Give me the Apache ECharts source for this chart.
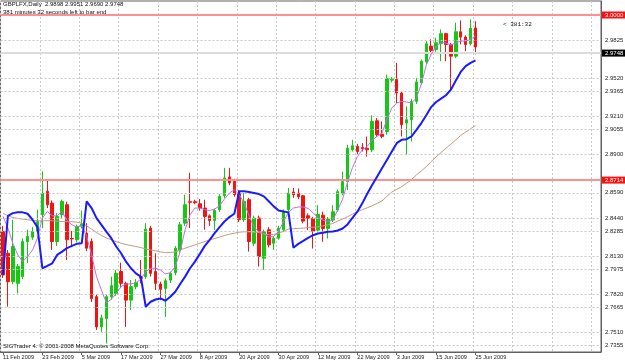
<!DOCTYPE html>
<html><head><meta charset="utf-8">
<script src="https://cdn.jsdelivr.net/npm/echarts/dist/echarts.min.js"></script>
<style>html,body{margin:0;padding:0;background:#fff}#c{width:625px;height:363px}</style>
</head><body><div id="c"></div>
<script>
const dates = [
'11 Feb 2009','12 Feb 2009','13 Feb 2009','16 Feb 2009','17 Feb 2009','18 Feb 2009','19 Feb 2009','20 Feb 2009',
'23 Feb 2009','24 Feb 2009','25 Feb 2009','26 Feb 2009','27 Feb 2009','2 Mar 2009','3 Mar 2009','4 Mar 2009',
'5 Mar 2009','6 Mar 2009','9 Mar 2009','10 Mar 2009','11 Mar 2009','12 Mar 2009','13 Mar 2009','16 Mar 2009',
'17 Mar 2009','18 Mar 2009','19 Mar 2009','20 Mar 2009','23 Mar 2009','24 Mar 2009','25 Mar 2009','26 Mar 2009',
'27 Mar 2009','30 Mar 2009','31 Mar 2009','1 Apr 2009','2 Apr 2009','3 Apr 2009','6 Apr 2009','7 Apr 2009',
'8 Apr 2009','9 Apr 2009','10 Apr 2009','13 Apr 2009','14 Apr 2009','15 Apr 2009','16 Apr 2009','17 Apr 2009',
'20 Apr 2009','21 Apr 2009','22 Apr 2009','23 Apr 2009','24 Apr 2009','27 Apr 2009','28 Apr 2009','29 Apr 2009',
'30 Apr 2009','1 May 2009','4 May 2009','5 May 2009','6 May 2009','7 May 2009','8 May 2009','11 May 2009',
'12 May 2009','13 May 2009','14 May 2009','15 May 2009','18 May 2009','19 May 2009','20 May 2009','21 May 2009',
'22 May 2009','25 May 2009','26 May 2009','27 May 2009','28 May 2009','29 May 2009','1 Jun 2009','2 Jun 2009',
'3 Jun 2009','4 Jun 2009','5 Jun 2009','8 Jun 2009','9 Jun 2009','10 Jun 2009','11 Jun 2009','12 Jun 2009',
'15 Jun 2009','16 Jun 2009','17 Jun 2009','18 Jun 2009','19 Jun 2009','22 Jun 2009','23 Jun 2009','24 Jun 2009',
'25 Jun 2009'];

const opens = [2.8295,2.8124,2.7900,2.7887,2.7940,2.8216,2.8251,2.8295,2.8427,2.8612,2.8519,2.8216,2.8427,2.8506,2.8240,2.8230,2.8340,2.8282,2.8216,2.7782,2.7544,2.7610,2.7782,2.7808,2.7980,2.7887,2.7755,2.7861,2.7940,2.7940,2.8322,2.7980,2.7882,2.7847,2.7913,2.7971,2.8151,2.8361,2.8530,2.8530,2.8514,2.8480,2.8419,2.8382,2.8467,2.8577,2.8725,2.8691,2.8598,2.8388,2.8546,2.8203,2.8401,2.8085,2.8309,2.8203,2.8243,2.8309,2.8467,2.8606,2.8596,2.8577,2.8419,2.8398,2.8306,2.8424,2.8319,2.8385,2.8464,2.8596,2.8688,2.8938,2.8965,2.8957,2.8951,2.8938,2.9167,2.9062,2.9083,2.9487,2.9492,2.9386,2.9149,2.9175,2.9320,2.9465,2.9631,2.9755,2.9729,2.9774,2.9853,2.9768,2.9676,2.9868,2.9826,2.9773,2.9898];
const closes = [2.7953,2.7900,2.8177,2.8019,2.8216,2.8256,2.8295,2.8374,2.8598,2.8506,2.8216,2.8414,2.8533,2.8230,2.8237,2.8335,2.8355,2.8164,2.7768,2.7544,2.7615,2.7782,2.7869,2.7966,2.7887,2.7755,2.7861,2.7893,2.7927,2.8314,2.7966,2.7887,2.7840,2.7908,2.7966,2.8164,2.8348,2.8506,2.8525,2.8522,2.8480,2.8414,2.8382,2.8461,2.8572,2.8717,2.8677,2.8585,2.8388,2.8533,2.8216,2.8401,2.8098,2.8295,2.8190,2.8243,2.8322,2.8453,2.8598,2.8585,2.8569,2.8377,2.8398,2.8298,2.8430,2.8319,2.8393,2.8451,2.8609,2.8688,2.8951,2.8970,2.8925,2.8946,2.8938,2.9162,2.9057,2.9044,2.9499,2.9495,2.9386,2.9136,2.9175,2.9320,2.9473,2.9636,2.9773,2.9721,2.9781,2.9853,2.9768,2.9676,2.9868,2.9826,2.9768,2.9895,2.9748];
const lows = [2.7930,2.7703,2.7880,2.7808,2.7920,2.8045,2.8230,2.8280,2.8322,2.8480,2.8150,2.8180,2.8400,2.8071,2.8180,2.8210,2.8320,2.8140,2.7740,2.7520,2.7505,2.7413,2.7760,2.7790,2.7860,2.7544,2.7676,2.7840,2.7887,2.7920,2.7940,2.7834,2.7755,2.7623,2.7890,2.7950,2.8130,2.8340,2.8322,2.8510,2.8460,2.8309,2.8340,2.8309,2.8450,2.8560,2.8660,2.8570,2.8370,2.8370,2.8137,2.8180,2.8019,2.7993,2.8170,2.8150,2.8230,2.8290,2.8450,2.8560,2.8550,2.8360,2.8306,2.8161,2.8290,2.8214,2.8240,2.8370,2.8450,2.8580,2.8622,2.8925,2.8899,2.8925,2.8885,2.8920,2.9040,2.9030,2.9057,2.9470,2.9307,2.9044,2.8899,2.9004,2.9300,2.9450,2.9610,2.9689,2.9710,2.9636,2.9636,2.9412,2.9660,2.9768,2.9715,2.9760,2.9690];
const highs = [2.8340,2.8150,2.8388,2.8040,2.8240,2.8309,2.8330,2.8467,2.8770,2.8704,2.8540,2.8440,2.8546,2.8530,2.8300,2.8350,2.8460,2.8361,2.8240,2.7800,2.7640,2.7800,2.7940,2.7993,2.8050,2.7900,2.7913,2.7920,2.8071,2.8361,2.8340,2.8124,2.7900,2.7925,2.7980,2.8180,2.8370,2.8585,2.8757,2.8545,2.8550,2.8546,2.8430,2.8475,2.8590,2.8796,2.8796,2.8710,2.8620,2.8598,2.8560,2.8420,2.8420,2.8310,2.8330,2.8260,2.8340,2.8470,2.8638,2.8638,2.8635,2.8583,2.8437,2.8410,2.8503,2.8451,2.8410,2.8503,2.8625,2.8767,2.8978,2.9017,2.8985,2.8991,2.9043,2.9210,2.9188,2.9162,2.9531,2.9510,2.9623,2.9400,2.9281,2.9340,2.9505,2.9650,2.9795,2.9808,2.9821,2.9887,2.9860,2.9780,2.9939,2.9958,2.9840,2.9966,2.9951];

const maFast = [2.8414,2.8322,2.8203,2.8111,2.8058,2.8098,2.8150,2.8243,2.8401,2.8453,2.8419,2.8419,2.8453,2.8382,2.8348,2.8330,2.8340,2.8256,2.8111,2.7940,2.7834,2.7734,2.7760,2.7808,2.7861,2.7882,2.7882,2.7892,2.7919,2.7979,2.8006,2.8006,2.7992,2.7961,2.7971,2.8019,2.8137,2.8309,2.8427,2.8480,2.8480,2.8467,2.8461,2.8472,2.8498,2.8551,2.8598,2.8625,2.8585,2.8519,2.8419,2.8330,2.8295,2.8277,2.8251,2.8256,2.8295,2.8374,2.8446,2.8480,2.8488,2.8488,2.8477,2.8443,2.8403,2.8385,2.8372,2.8385,2.8464,2.8551,2.8683,2.8798,2.8885,2.8938,2.8965,2.9015,2.9044,2.9070,2.9175,2.9268,2.9307,2.9320,2.9315,2.9307,2.9347,2.9457,2.9605,2.9689,2.9752,2.9781,2.9781,2.9763,2.9781,2.9795,2.9795,2.9808,2.9834];
const maSlow = [2.8440,2.8419,2.8406,2.8398,2.8393,2.8388,2.8382,2.8380,2.8380,2.8380,2.8380,2.8377,2.8374,2.8374,2.8372,2.8369,2.8361,2.8340,2.8314,2.8287,2.8264,2.8245,2.8230,2.8216,2.8203,2.8193,2.8185,2.8177,2.8169,2.8158,2.8150,2.8143,2.8135,2.8129,2.8129,2.8135,2.8150,2.8164,2.8177,2.8190,2.8203,2.8216,2.8230,2.8240,2.8251,2.8264,2.8274,2.8282,2.8290,2.8293,2.8293,2.8290,2.8287,2.8277,2.8269,2.8272,2.8282,2.8298,2.8314,2.8318,2.8319,2.8322,2.8327,2.8329,2.8332,2.8340,2.8348,2.8358,2.8377,2.8393,2.8411,2.8432,2.8451,2.8467,2.8482,2.8498,2.8517,2.8535,2.8572,2.8606,2.8627,2.8648,2.8675,2.8704,2.8741,2.8772,2.8806,2.8846,2.8883,2.8917,2.8951,2.8983,2.9017,2.9052,2.9078,2.9104,2.9130];
const blueLine = [2.7953,2.8419,2.8440,2.8446,2.8446,2.8435,2.8388,2.8330,2.8006,2.8024,2.8045,2.8111,2.8137,2.8164,2.8182,2.8198,2.8203,2.8533,2.8480,2.8401,2.8348,2.8295,2.8243,2.8177,2.8124,2.8058,2.8006,2.7966,2.7940,2.7703,2.7742,2.7760,2.7768,2.7750,2.7782,2.7821,2.7882,2.7940,2.8006,2.8058,2.8119,2.8182,2.8230,2.8282,2.8330,2.8374,2.8409,2.8435,2.8612,2.8612,2.8606,2.8598,2.8590,2.8572,2.8533,2.8493,2.8461,2.8453,2.8446,2.8168,2.8198,2.8221,2.8245,2.8266,2.8279,2.8285,2.8293,2.8295,2.8303,2.8319,2.8351,2.8403,2.8451,2.8517,2.8593,2.8661,2.8727,2.8793,2.8859,2.8925,2.8991,2.9017,2.9022,2.9044,2.9096,2.9149,2.9210,2.9275,2.9315,2.9341,2.9368,2.9412,2.9484,2.9552,2.9597,2.9623,2.9642];

const priceTicks = ['2.9825','2.9675','2.9520','2.9365','2.9210','2.9055','2.8900','2.8745','2.8590','2.8440','2.8285','2.8130','2.7975','2.7820','2.7665','2.7510','2.7355'];
const levelLines = ['3.0000','2.8714'];
const bidPrice = '2.9748';
const titleLine1 = 'GBPLFX,Daily  2.9898 2.9951 2.9690 2.9748';
const titleLine2 = '381 minutes 32 seconds left to bar end';
const copyright = 'SIGTrader 4. \u00a9 2001-2008 MetaQuotes Software Corp.';
const timerText = '< 381:32';

const emptySlots = 25;
const cats = dates.concat(new Array(emptySlots).fill(''));
const candles = opens.map((o, i) => [o, closes[i], lows[i], highs[i]]);
const every8 = (i) => i % 8 === 0;
const FONT = 'Liberation Sans';

const chart = echarts.init(document.getElementById('c'), null, {renderer: 'canvas'});
chart.setOption({
  animation: false,
  backgroundColor: '#ffffff',
  grid: {left: 0, top: 1, right: 24, bottom: 11, show: true, borderColor: '#606060', borderWidth: 1, backgroundColor: '#ffffff'},
  xAxis: {
    type: 'category', data: cats, boundaryGap: true,
    axisLine: {show: true, lineStyle: {color: '#606060', width: 1}},
    axisTick: {show: true, alignWithLabel: true, interval: (i) => every8(i) && i < dates.length, length: 3, lineStyle: {color: '#606060'}},
    axisLabel: {interval: (i) => every8(i), align: 'left', fontSize: 5.6, color: '#222', margin: 2, fontFamily: FONT},
    splitLine: {show: true, interval: (i) => every8(i), lineStyle: {color: '#c8c8c8', type: [2, 2], width: 1}}
  },
  yAxis: {
    type: 'value', position: 'right', min: 2.73465, max: 3.01102, scale: true,
    axisLine: {show: true, lineStyle: {color: '#606060'}},
    axisTick: {show: false}, axisLabel: {show: false}, splitLine: {show: false}
  },
  graphic: [
    {type: 'text', left: 3, top: 1.5, z: 100, style: {text: titleLine1, fontSize: 6, fontFamily: FONT, fill: '#111'}},
    {type: 'text', left: 3, top: 9, z: 100, style: {text: titleLine2, fontSize: 6, fontFamily: FONT, fill: '#111'}},
    {type: 'text', left: 3, top: 343.5, z: 100, style: {text: copyright, fontSize: 6, fontFamily: FONT, fill: '#111'}},
    {type: 'text', left: 503, top: 21, z: 100, style: {text: timerText, fontSize: 6, fontFamily: 'Liberation Mono', fill: '#111'}}
  ],
  series: [
    {
      type: 'line', data: [], z: 1, silent: true,
      markLine: {
        silent: true, symbol: ['none', 'none'], animation: false,
        lineStyle: {color: '#c8c8c8', type: [2, 2], width: 1},
        label: {position: 'end', distance: 4, fontSize: 6, color: '#222', fontFamily: FONT},
        data: priceTicks.map(t => ({yAxis: parseFloat(t), label: {formatter: t}}))
      }
    },
    {
      type: 'line', data: [], z: 2, silent: true,
      markLine: {
        silent: true, symbol: ['none', 'none'], animation: false,
        data: [{yAxis: parseFloat(bidPrice), lineStyle: {color: '#dcdcdc', type: 'solid', width: 2},
          label: {formatter: bidPrice, position: 'end', distance: 1, fontSize: 6, color: '#fff', backgroundColor: '#000', padding: [1, 3, 0, 3], fontFamily: FONT}}]
      }
    },
    {
      type: 'candlestick', data: candles, barWidth: 3, z: 3,
      itemStyle: {color: '#14c814', color0: '#f01414', borderColor: '#14c814', borderColor0: '#f01414', borderWidth: 1}
    },
    {type: 'line', data: maSlow, symbol: 'none', z: 4, lineStyle: {color: '#c49a80', width: 1}},
    {type: 'line', data: maFast, symbol: 'none', z: 5, lineStyle: {color: '#c070e8', width: 1}},
    {type: 'line', data: blueLine, symbol: 'none', z: 6, lineStyle: {color: '#1a1aff', width: 2}},
    {
      type: 'line', data: [], z: 7, silent: true,
      markLine: {
        silent: true, symbol: ['none', 'none'], animation: false,
        lineStyle: {color: '#ff9090', type: 'solid', width: 2},
        label: {position: 'end', distance: 1, fontSize: 6, color: '#fff', backgroundColor: '#ff1010', padding: [1, 3, 0, 3], fontFamily: FONT},
        data: levelLines.map(t => ({yAxis: parseFloat(t), label: {formatter: t}}))
      }
    }
  ]
});
</script></body></html>
